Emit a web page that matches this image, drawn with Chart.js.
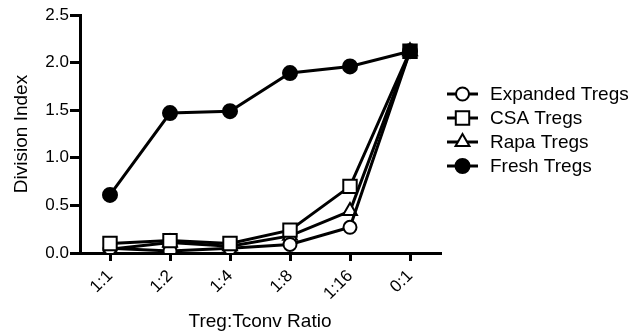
<!DOCTYPE html>
<html>
<head>
<meta charset="utf-8">
<script src="https://cdn.jsdelivr.net/npm/chart.js@4"></script>
<style>
  html, body { margin: 0; padding: 0; background: #fff; }
  #wrap { width: 636px; height: 334px; }
</style>
</head>
<body>
<div id="wrap"><canvas id="divChart" width="636" height="334"></canvas></div>
<script>
const ratios = ['1:1', '1:2', '1:4', '1:8', '1:16', '0:1'];
const expandedTregs = [0.05, 0.02, 0.05, 0.09, 0.27, 2.12];
const csaTregs = [0.10, 0.13, 0.10, 0.24, 0.70, 2.12];
const rapaTregs = [0.04, 0.11, 0.07, 0.18, 0.44, 2.12];
const freshTregs = [0.61, 1.47, 1.49, 1.89, 1.96, 2.12];
const yTicks = [0, 0.5, 1.0, 1.5, 2.0, 2.5];

const fontFamily = '"Liberation Sans", Arial, sans-serif';

function makeSet(label, data, style, radius, fill, order) {
    return {
        label: label,
        data: data,
        order: order,
        legendFill: fill,
        borderColor: '#000',
        borderWidth: 3,
        pointStyle: style,
        pointRadius: radius,
        pointHoverRadius: radius,
        pointBorderWidth: 2,
        pointBorderColor: '#000',
        pointBackgroundColor: fill,
        tension: 0,
        fill: false
    };
}

// legend drawn by hand: short line with the marker on it, then the label
const sideLegend = {
    id: 'sideLegend',
    afterDraw(chart) {
        const c = chart.ctx;
        const x0 = 447, x1 = 478, textX = 490;
        let y = 94;
        chart.data.datasets.forEach(function(ds) {
            c.save();
            c.strokeStyle = '#000';
            c.lineWidth = 3;
            c.beginPath();
            c.moveTo(x0, y);
            c.lineTo(x1, y);
            c.stroke();
            c.lineWidth = 2;
            c.fillStyle = ds.legendFill;
            Chart.helpers.drawPoint(c, {
                pointStyle: ds.pointStyle,
                radius: ds.pointRadius,
                rotation: 0,
                borderWidth: 2
            }, (x0 + x1) / 2, y);
            c.restore();
            c.save();
            c.fillStyle = '#000';
            c.font = '19px ' + fontFamily;
            c.textBaseline = 'middle';
            c.fillText(ds.label, textX, y + 1);
            c.restore();
            y += 24;
        });
    }
};

const csaSet = makeSet('CSA Tregs', csaTregs, 'rect', 9.5, '#fff', 0);
// the shared end point shows as a solid square in the original
csaSet.pointBackgroundColor = csaTregs.map(function(v, i) {
    return i === csaTregs.length - 1 ? '#000' : '#fff';
});

const ctx = document.getElementById('divChart').getContext('2d');
const chart = new Chart(ctx, {
    type: 'line',
    data: {
        labels: ratios,
        datasets: [
            makeSet('Expanded Tregs', expandedTregs, 'circle', 6.5, '#fff', 1),
            csaSet,
            makeSet('Rapa Tregs', rapaTregs, 'triangle', 8, '#fff', 2),
            makeSet('Fresh Tregs', freshTregs, 'circle', 7, '#000', 3)
        ]
    },
    options: {
        responsive: false,
        animation: false,
        events: [],
        layout: { padding: { top: 15, right: 196, left: 0, bottom: 0 } },
        plugins: {
            legend: { display: false },
            tooltip: { enabled: false }
        },
        scales: {
            x: {
                offset: true,
                afterFit(scale) { scale.height = 81; },
                border: { color: '#000', width: 3 },
                grid: {
                    drawOnChartArea: false,
                    drawTicks: true,
                    tickLength: 8,
                    color: '#000',
                    lineWidth: 3,
                    offset: false
                },
                ticks: {
                    color: '#000',
                    font: { family: fontFamily, size: 17 },
                    minRotation: 45,
                    maxRotation: 45,
                    autoSkip: false,
                    padding: 5
                },
                title: {
                    display: true,
                    text: 'Treg:Tconv Ratio',
                    color: '#000',
                    font: { family: fontFamily, size: 19 },
                    padding: { top: 4, bottom: 1 }
                }
            },
            y: {
                min: 0,
                max: 2.5,
                afterFit(scale) { scale.width = 80; },
                afterBuildTicks(scale) {
                    scale.ticks = yTicks.map(function(v) { return { value: v }; });
                },
                border: { color: '#000', width: 3 },
                grid: {
                    drawOnChartArea: false,
                    drawTicks: true,
                    tickLength: 10,
                    color: '#000',
                    lineWidth: 3
                },
                ticks: {
                    color: '#000',
                    font: { family: fontFamily, size: 17 },
                    padding: 1,
                    callback: function(v) { return v.toFixed(1); }
                },
                title: {
                    display: true,
                    text: 'Division Index',
                    color: '#000',
                    font: { family: fontFamily, size: 19 },
                    padding: { top: 10, bottom: 0 }
                }
            }
        }
    },
    plugins: [sideLegend]
});
</script>
</body>
</html>
